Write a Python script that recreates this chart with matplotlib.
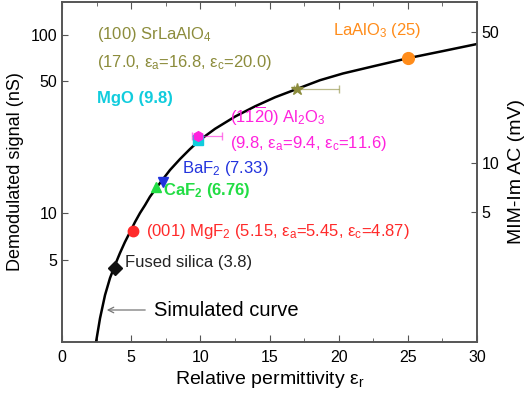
import numpy as np
import matplotlib
matplotlib.use("Agg")
import matplotlib.pyplot as plt
from matplotlib.ticker import NullLocator, FixedLocator, MultipleLocator

plt.rcParams['font.family'] = ['Liberation Sans', 'DejaVu Sans']
plt.rcParams['mathtext.fontset'] = 'custom'
plt.rcParams['mathtext.rm'] = 'Liberation Sans'
plt.rcParams['mathtext.it'] = 'Liberation Sans'

# ---------------- data ----------------
curve_eps = [2.31, 2.46, 2.75, 3.11, 3.47, 3.83, 4.19, 4.55, 4.92, 5.28, 5.64, 6.00, 6.36,
             7.08, 7.81, 8.53, 9.25, 9.98, 11.06, 12.51, 13.95, 15.40, 16.99, 18.65,
             20.31, 22.63, 25.08, 27.54, 30.0]
curve_sig = [1.32, 1.49, 2.12, 2.98, 3.83, 4.64, 5.54, 6.52, 7.56, 8.76, 10.0, 11.0, 12.2,
             14.4, 16.9, 19.3, 21.8, 24.4, 27.9, 32.4, 36.7, 41.0, 45.4, 50.6,
             56.0, 62.8, 70.7, 78.5, 87.3]

materials = ["Fused silica", "MgF2", "CaF2", "BaF2", "MgO", "Al2O3", "SrLaAlO4", "LaAlO3"]
mat_eps = [3.8, 5.15, 6.76, 7.33, 9.8, 9.8, 17.0, 25.0]
mat_sig = [4.44, 7.67, 13.7, 14.6, 24.4, 25.6, 45.4, 70.7]
mat_err_lo = [0, 0, 0, 0, 0, 0.4, 0.2, 0]
mat_err_hi = [0, 0, 0, 0, 0, 1.8, 3.0, 0]
mat_color = ["#111111", "#ff2a2a", "#22dd44", "#2233dd", "#11ccdd", "#ff22dd", "#8c8c3c", "#ff8c1a"]
mat_marker = ["D", "o", "^", "v", "s", "h", "*", "o"]

left_ticks = [5, 10, 50, 100]
right_ticks = [5, 10, 50]
x_ticks = [0, 5, 10, 15, 20, 25, 30]

# ---------------- custom log-like scale ----------------
def make_scale(vals, pos):
    lv = np.log10(np.asarray(vals, float))
    p = np.asarray(pos, float)
    s_lo = (p[1] - p[0]) / (lv[1] - lv[0])
    s_hi = (p[-1] - p[-2]) / (lv[-1] - lv[-2])

    def fwd(v):
        v = np.asarray(v, float)
        with np.errstate(divide='ignore', invalid='ignore'):
            l = np.log10(np.where(v > 0, v, np.nan))
        out = np.interp(l, lv, p)
        out = np.where(l < lv[0], p[0] + (l - lv[0]) * s_lo, out)
        out = np.where(l > lv[-1], p[-1] + (l - lv[-1]) * s_hi, out)
        return out

    def inv(q):
        q = np.asarray(q, float)
        l = np.interp(q, p, lv)
        l = np.where(q < p[0], lv[0] + (q - p[0]) / s_lo, l)
        l = np.where(q > p[-1], lv[-1] + (q - p[-1]) / s_hi, l)
        return 10 ** l
    return fwd, inv

H = 340.0
fwdL, invL = make_scale([5, 10, 50, 100], [82, 129, 261, 307])
fwdR, invR = make_scale([5, 10, 50], [130, 179, 310])

fig = plt.figure(figsize=(5.31, 3.96), dpi=100)
ax = fig.add_axes([62/531, 1 - 342/396, (477-62)/531, 340/396])
ax.set_yscale('function', functions=(fwdL, invL))
ax.set_ylim(float(invL(0)), float(invL(H)))
ax.set_xlim(0, 30)

spine_c = "#555555"
for s in ax.spines.values():
    s.set_color(spine_c)
    s.set_linewidth(1.2)

ax.plot(curve_eps, curve_sig, color='black', lw=1.8, zorder=3,
        solid_joinstyle='round')

for i, m in enumerate(materials):
    if mat_err_hi[i] > 0:
        ax.errorbar(mat_eps[i], mat_sig[i], xerr=[[mat_err_lo[i]], [mat_err_hi[i]]],
                    fmt='none', ecolor=mat_color[i], elinewidth=0.9, capsize=3,
                    alpha=0.6, zorder=4)
    ms = {"*": 9, "o": 7.5}.get(mat_marker[i], 7)
    if i == 7:
        ms = 8.5
    ax.plot(mat_eps[i], mat_sig[i], marker=mat_marker[i], color=mat_color[i],
            ms=ms, ls='none', zorder=5)

ax.xaxis.set_major_locator(FixedLocator(x_ticks))
ax.xaxis.set_minor_locator(MultipleLocator(2.5))
ax.yaxis.set_major_locator(FixedLocator(left_ticks))
ax.yaxis.set_minor_locator(NullLocator())
ax.set_yticklabels([str(t) for t in left_ticks])
ax.tick_params(axis='both', which='both', direction='in', color=spine_c, labelsize=11.5)
ax.tick_params(axis='x', which='both', top=True)
ax.tick_params(axis='x', which='major', length=5, pad=6)
ax.tick_params(axis='x', which='minor', length=3)
ax.tick_params(axis='y', which='major', length=4)

ax2 = ax.twinx()
ax2.set_yscale('function', functions=(fwdR, invR))
ax2.set_ylim(float(invR(0)), float(invR(H)))
ax2.yaxis.set_major_locator(FixedLocator(right_ticks))
ax2.yaxis.set_minor_locator(NullLocator())
ax2.set_yticklabels([str(t) for t in right_ticks])
ax2.tick_params(axis='y', which='both', direction='in', color=spine_c, labelsize=11.5, length=4)
for s in ax2.spines.values():
    s.set_color(spine_c)
    s.set_linewidth(1.2)

ax.set_xlabel(r"Relative permittivity ε$_\mathregular{r}$", fontsize=14, labelpad=3)
ax.set_ylabel("Demodulated signal (nS)", fontsize=13, labelpad=5)
ax2.set_ylabel("MIM-Im AC (mV)", fontsize=14, labelpad=6)

# ---------------- annotations ----------------
def txt(xp, yp, s, color, size=12, weight='normal'):
    fig.text(xp/531, 1 - yp/396, s, color=color, fontsize=size, weight=weight,
             ha='left', va='center')

olive = mat_color[6]
txt(97, 35, r"(100) SrLaAlO$_\mathregular{4}$", olive)
txt(97, 62, r"(17.0, ε$_\mathregular{a}$=16.8, ε$_\mathregular{c}$=20.0)", olive)
txt(333, 31, r"LaAlO$_\mathregular{3}$ (25)", mat_color[7])
txt(97, 99, "MgO (9.8)", mat_color[4], weight='bold')
txt(230, 116, r"(11$\mathregular{\overline{2}}$0) Al$_\mathregular{2}$O$_\mathregular{3}$", mat_color[5])
txt(230, 143, r"(9.8, ε$_\mathregular{a}$=9.4, ε$_\mathregular{c}$=11.6)", mat_color[5])
txt(182, 168, r"BaF$_\mathregular{2}$ (7.33)", mat_color[3])
txt(163, 190, r"CaF$_\mathregular{2}$ (6.76)", mat_color[2], weight='bold')
txt(146, 231, r"(001) MgF$_\mathregular{2}$ (5.15, ε$_\mathregular{a}$=5.45, ε$_\mathregular{c}$=4.87)", mat_color[1])
txt(125, 262, "Fused silica (3.8)", "#222222")
txt(154, 310, "Simulated curve", "black", size=14.5)

ax.annotate("", xy=(104/531, 1 - 310/396), xycoords='figure fraction',
            xytext=(148/531, 1 - 310/396), textcoords='figure fraction',
            arrowprops=dict(arrowstyle='->', color='#777777', lw=0.9))

fig.savefig("out.png", dpi=100)
